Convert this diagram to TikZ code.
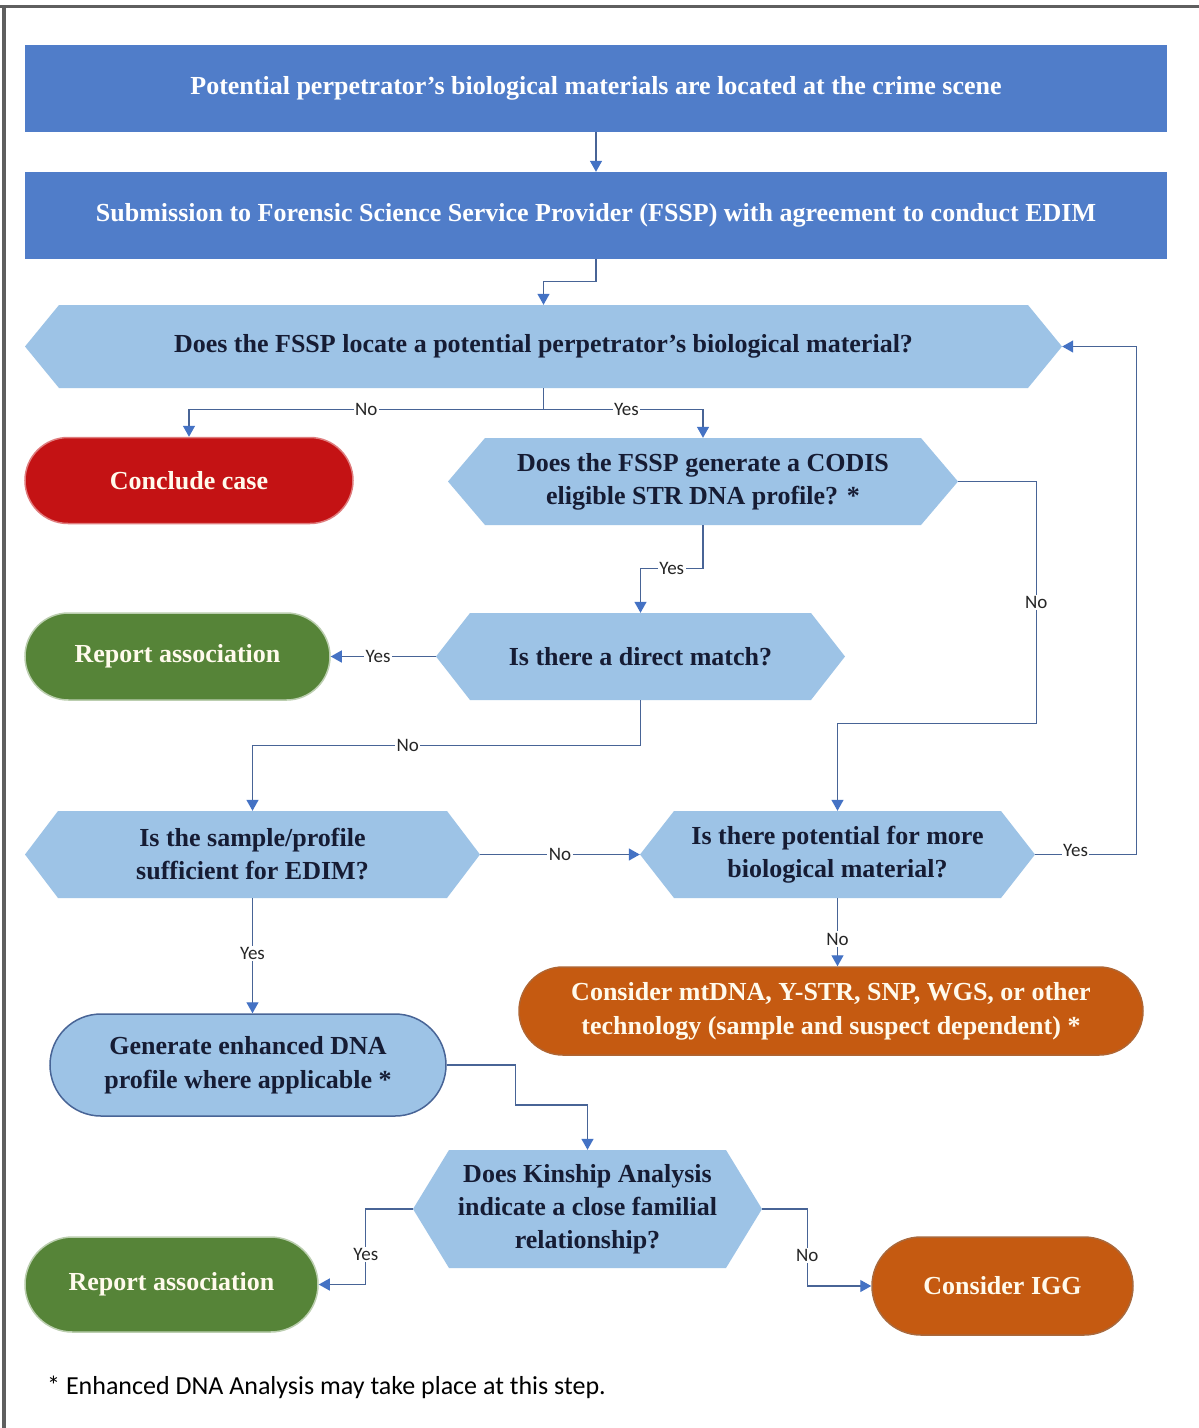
\documentclass[tikz,border=0pt]{standalone}
\usepackage{fontspec}
\setmainfont{Liberation Serif}
\newfontfamily\labfont{Carlito}
\usetikzlibrary{arrows.meta}
\definecolor{boxblue}{RGB}{80,125,201}
\definecolor{hexblue}{RGB}{157,195,230}
\definecolor{txtdark}{RGB}{22,28,52}
\definecolor{termred}{RGB}{196,18,20}
\definecolor{termgreen}{RGB}{86,132,56}
\definecolor{termorange}{RGB}{197,90,17}
\definecolor{linecol}{RGB}{72,100,150}
\definecolor{tipcol}{RGB}{68,114,196}
\definecolor{framegray}{RGB}{95,95,95}
\definecolor{termtext}{RGB}{255,250,236}
\tikzset{
  topbox/.style={rectangle, fill=boxblue, text=white, inner sep=0pt,
    font=\bfseries\fontsize{26}{32}\selectfont, minimum width=1142pt, minimum height=87pt},
  hextext/.style={rectangle, inner sep=0pt, text=txtdark, align=center,
    font=\bfseries\fontsize{26}{33}\selectfont},
  term/.style={rectangle, inner sep=0pt, align=center, text=termtext, line width=1.5pt,
    font=\bfseries\fontsize{26}{34}\selectfont},
  conn/.style={draw=linecol, line width=1.3pt},
  arr/.style={conn, -{Triangle[width=12pt,length=11pt,color=tipcol]}},
  lbl/.style={fill=white, inner sep=1.5pt, text=black!85, font=\labfont\fontsize{19}{19}\selectfont}
}
\newcommand{\hexnode}[7]{%
  \fill[hexblue] (#2-#4,#3) -- (#2-#4+#6,#3-#5) -- (#2+#4-#6,#3-#5) -- (#2+#4,#3)
     -- (#2+#4-#6,#3+#5) -- (#2-#4+#6,#3+#5) -- cycle;
  \node[hextext, minimum width={2*#4pt}, minimum height={2*#5pt}] (#1) at (#2,#3) {#7};}
\begin{document}
\begin{tikzpicture}[x=1pt,y=-1pt]
\useasboundingbox (0,0) rectangle (1199,1428);
\fill[white] (0,0) rectangle (1199,1428);
\draw[framegray, line width=3pt] (0,6) -- (1199,6);
\draw[framegray, line width=4pt] (4,6) -- (4,1428);

% top boxes
\node[topbox] (b1) at (596,88) {Potential perpetrator’s biological materials are located at the crime scene};
\node[topbox] (b2) at (596,215.5) {Submission to Forensic Science Service Provider (FSSP) with agreement to conduct EDIM};

% decision hexagons
\hexnode{h1}{543.5}{346.5}{518.5}{41.5}{34}{Does the FSSP locate a potential perpetrator’s biological material?}
\hexnode{h2}{703}{481.5}{255}{43.5}{37}{Does the FSSP generate a CODIS\\ eligible STR DNA profile? *}
\hexnode{h3}{640.5}{656.5}{204.5}{43.5}{34}{Is there a direct match?}
\hexnode{h4}{252.5}{854.5}{227.5}{43.5}{33}{Is the sample/profile\\ sufficient for EDIM?}
\hexnode{h5}{837.5}{854.5}{197.5}{43.5}{34}{Is there potential for more\\ biological material?}
\hexnode{h6}{587.5}{1209}{174.5}{59}{36}{Does Kinship Analysis\\ indicate a close familial\\ relationship?}

% terminals
\node[term, fill=termred, draw=termred!55!white, minimum width=328pt, minimum height=86pt, rounded corners=43pt] (cc) at (189,480.5) {Conclude case};
\node[term, fill=termgreen, draw=termgreen!40!white, minimum width=305pt, minimum height=87pt, rounded corners=43.5pt] (rp1) at (177.5,656.5) {Report association};
\node[term, fill=termorange, draw=termorange!70!gray, minimum width=624pt, minimum height=88pt, rounded corners=44pt] (oth) at (831,1011) {Consider mtDNA, Y-STR, SNP, WGS, or other\\ technology (sample and suspect dependent) *};
\node[term, fill=hexblue, draw=linecol, text=txtdark, minimum width=396pt, minimum height=102pt, rounded corners=51pt] (gen) at (248,1065) {Generate enhanced DNA\\ profile where applicable *};
\node[term, fill=termgreen, draw=termgreen!40!white, minimum width=293pt, minimum height=95pt, rounded corners=47.5pt] (rp2) at (171.5,1284.5) {Report association};
\node[term, fill=termorange, draw=termorange!60!gray, minimum width=261pt, minimum height=98pt, rounded corners=49pt] (igg) at (1002.5,1286) {Consider IGG};

% footnote
\node[anchor=west, inner sep=0pt, font=\labfont\fontsize{26}{26}\selectfont] (fn) at (47,1387) {* Enhanced DNA Analysis may take place at this step.};

% connectors
\draw[arr] (b1.south) -- (b2.north);
\draw[arr] (b2.south) -- ++(0,22) -| (h1.north);
\draw[conn] (h1.south) -- ++(0,21) coordinate (j1);
\draw[arr] (j1) -| node[lbl, pos=0.25] {No} (cc.north);
\draw[arr] (j1) -| node[lbl, pos=0.26] {Yes} (h2.north);
\draw[arr] (h2.south) -- ++(0,43) -| node[lbl, pos=0.25] {Yes} (h3.north);
\draw[arr] (h2.east) -- ++(78,0) -- node[lbl] {No} ++(0,242) -| (h5.north);
\draw[arr] (h3.west) -- node[lbl, pos=0.55] {Yes} (rp1.east);
\draw[arr] (h3.south) -- ++(0,45) -| node[lbl, pos=0.3] {No} (h4.north);
\draw[arr] (h4.east) -- node[lbl] {No} (h5.west);
\draw[arr] (h5.east) -- node[lbl, pos=0.4, yshift=4pt] {Yes} ++(101,0) |- (h1.east);
\draw[arr] (h5.south) -- node[lbl, pos=0.6] {No} (h5.south |- oth.north);
\draw[arr] (h4.south) -- node[lbl, pos=0.48] {Yes} (h4.south |- gen.north);
\draw[arr] (gen.east) -| ++(69,40) -| (h6.north);
\draw[arr] (h6.west) -- ++(-47,0) |- node[lbl, pos=0.3] {Yes} (rp2.east);
\draw[arr] (h6.east) -- ++(45,0) |- node[lbl, pos=0.3] {No} (igg.west);
\end{tikzpicture}
\end{document}
